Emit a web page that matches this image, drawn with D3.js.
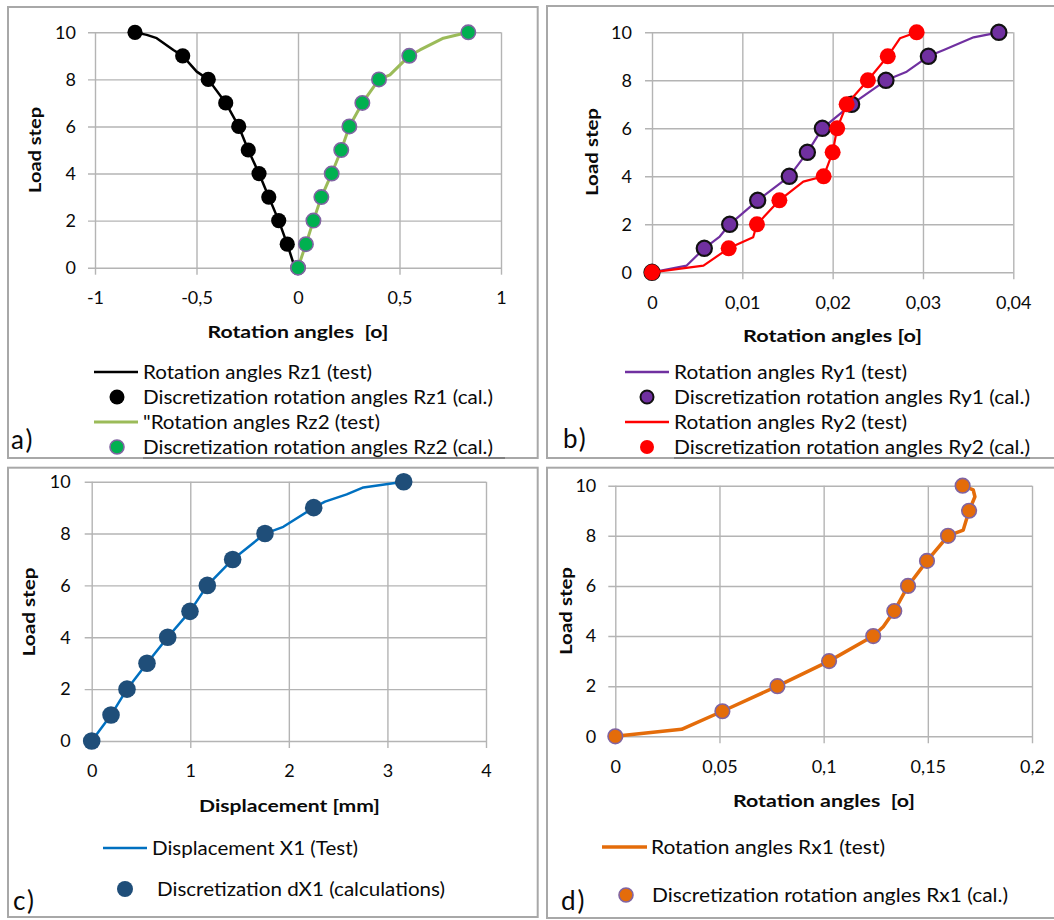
<!DOCTYPE html>
<html>
<head>
<meta charset="utf-8">
<script src="https://cdn.jsdelivr.net/npm/d3@7"></script>
<style>
  html, body { margin: 0; padding: 0; background: #ffffff; }
  svg { display: block; }
  text { font-family: Lato, "Open Sans", sans-serif; white-space: pre; }
</style>
</head>
<body>
<svg id="chart" width="1054" height="920"></svg>
<script>
// ---- Load steps (shared vertical variable) ----
const loadSteps = [0, 1, 2, 3, 4, 5, 6, 7, 8, 9, 10];
const yTicks = [0, 2, 4, 6, 8, 10];
const yTickLabels = ["0", "2", "4", "6", "8", "10"];

// ---- a) rotation angles Rz1 / Rz2 ----
const xTicksA = [-1, -0.5, 0, 0.5, 1];
const xTickLabelsA = ["-1", "-0,5", "0", "0,5", "1"];
const rz1Cal = [0, -0.053, -0.095, -0.144, -0.192, -0.245, -0.292, -0.356, -0.442, -0.568, -0.803];
const rz2Cal = [0, 0.039, 0.076, 0.115, 0.166, 0.213, 0.253, 0.317, 0.399, 0.548, 0.839];
const rz1TestAngle = [0, -0.023, -0.053, -0.095, -0.144, -0.192, -0.245, -0.292, -0.356, -0.442, -0.499, -0.568, -0.614, -0.696, -0.745, -0.803];
const rz1TestStep  = [0, 0.2, 1, 2, 3, 4, 5, 6, 7, 8, 8.33, 9, 9.25, 9.75, 9.89, 10];
const rz2TestAngle = [0, 0.039, 0.076, 0.115, 0.166, 0.213, 0.253, 0.317, 0.399, 0.453, 0.548, 0.601, 0.716, 0.839];
const rz2TestStep  = [0, 1, 2, 3, 4, 5, 6, 7, 8, 8.19, 9, 9.25, 9.75, 10];

// ---- b) rotation angles Ry1 / Ry2 ----
const xTicksB = [0, 0.01, 0.02, 0.03, 0.04];
const xTickLabelsB = ["0", "0,01", "0,02", "0,03", "0,04"];
const ry1Cal = [0, 0.00579, 0.0086, 0.0117, 0.0152, 0.0172, 0.01886, 0.0221, 0.0259, 0.0306, 0.0384];
const ry2Cal = [0, 0.00849, 0.01162, 0.0141, 0.0190, 0.0200, 0.0205, 0.02155, 0.0239, 0.0261, 0.0293];
const ry1TestAngle = [0, 0.00384, 0.00579, 0.0075, 0.0086, 0.0117, 0.0152, 0.0172, 0.01886, 0.0221, 0.0259, 0.0282, 0.0306, 0.0323, 0.0356, 0.0384];
const ry1TestStep  = [0, 0.28, 1, 1.49, 2, 3, 4, 5, 6, 7, 8, 8.36, 9, 9.26, 9.79, 10];
const ry2TestAngle = [0, 0.0057, 0.00849, 0.0112, 0.01162, 0.0141, 0.01675, 0.0190, 0.0200, 0.0205, 0.02155, 0.0239, 0.0261, 0.02745, 0.0293];
const ry2TestStep  = [0, 0.28, 1, 1.46, 2, 3, 3.78, 4, 5, 6, 7, 8, 9, 9.75, 10];

// ---- c) displacement X1 ----
const xTicksC = [0, 1, 2, 3, 4];
const xTickLabelsC = ["0", "1", "2", "3", "4"];
const dx1Cal = [0, 0.196, 0.358, 0.561, 0.771, 0.997, 1.173, 1.430, 1.758, 2.252, 3.165];
const dx1TestDisp = [0, 0.196, 0.358, 0.561, 0.771, 0.997, 1.173, 1.430, 1.758, 1.944, 2.252, 2.367, 2.587, 2.756, 3.165];
const dx1TestStep = [0, 1, 2, 3, 4, 5, 6, 7, 8, 8.26, 9, 9.23, 9.51, 9.78, 10];

// ---- d) rotation angles Rx1 ----
const xTicksD = [0, 0.05, 0.1, 0.15, 0.2];
const xTickLabelsD = ["0", "0,05", "0,1", "0,15", "0,2"];
const rx1Cal = [0, 0.0514, 0.0778, 0.1026, 0.1238, 0.1339, 0.1405, 0.1496, 0.1597, 0.1698, 0.1667];
const rx1TestAngle = [0, 0.0318, 0.0514, 0.0778, 0.1026, 0.1238, 0.1286, 0.1339, 0.1405, 0.1496, 0.1597, 0.167, 0.1698, 0.1726, 0.1718, 0.1667];
const rx1TestStep  = [0, 0.28, 1, 2, 3, 4, 4.37, 5, 6, 7, 8, 8.23, 9, 9.56, 9.83, 10];

const svg = d3.select("#chart");
const GRID = "#b4b4b4";
const FRAME = "#a8a8a8";
const INK = "#0a0a0a";

// panel frames
const frames = [
  {x: 8, y: 7, w: 529.7, h: 451, under: [143, 505]},
  {x: 547, y: 6, w: 520, h: 452, under: [674, 1030]},
  {x: 8, y: 467.7, w: 529.7, h: 449.3},
  {x: 547, y: 467.7, w: 520, h: 450.3}
];
frames.forEach(f => {
  svg.append("rect").attr("x", f.x).attr("y", f.y).attr("width", f.w).attr("height", f.h)
    .attr("fill", "none").attr("stroke", FRAME).attr("stroke-width", 2);
  if (f.under) {
    svg.append("line").attr("x1", f.under[0]).attr("x2", f.under[1])
      .attr("y1", f.y + f.h).attr("y2", f.y + f.h)
      .attr("stroke", "#707070").attr("stroke-width", 1.5);
  }
});

function drawPanel(p) {
  const g = svg.append("g");
  const x = d3.scaleLinear().domain(p.xDomain).range([p.left, p.right]);
  const y = d3.scaleLinear().domain([0, 10]).range([p.bottom, p.top]);
  const W = p.right - p.left, H = p.bottom - p.top;

  // horizontal grid + y labels
  const ya = g.append("g").attr("transform", `translate(${p.left},0)`)
    .call(d3.axisLeft(y).tickValues(yTicks).tickSize(-W).tickPadding(p.yPad)
      .tickFormat((d, i) => yTickLabels[i]));
  ya.select(".domain").remove();
  ya.selectAll(".tick line").attr("x1", -7).attr("stroke", GRID).attr("stroke-width", 1.4);
  ya.selectAll(".tick text").attr("font-size", 18).attr("fill", INK)
    .attr("font-family", "Lato, 'Open Sans', sans-serif");

  // vertical grid + x labels
  const xa = g.append("g").attr("transform", `translate(0,${p.bottom})`)
    .call(d3.axisBottom(x).tickValues(p.xTicks).tickSize(-H).tickPadding(p.xPad)
      .tickFormat((d, i) => p.xLabels[i]));
  xa.select(".domain").remove();
  xa.selectAll(".tick line").attr("y1", 7).attr("stroke", GRID).attr("stroke-width", 1.4);
  xa.selectAll(".tick text").attr("font-size", 18).attr("fill", INK)
    .attr("font-family", "Lato, 'Open Sans', sans-serif");

  // axis titles
  g.append("text").attr("x", p.xTitle.x).attr("y", p.xTitle.y)
    .attr("text-anchor", "middle").attr("font-size", 17.5).attr("font-weight", 700).attr("fill", INK)
    .attr("textLength", p.xTitle.w).attr("lengthAdjust", "spacingAndGlyphs")
    .text(p.xTitle.text);
  g.append("text").attr("transform", `translate(${p.yTitle.x},${p.yTitle.y}) rotate(-90)`)
    .attr("text-anchor", "middle").attr("font-size", 17.5).attr("font-weight", 700).attr("fill", INK)
    .attr("textLength", p.yTitle.w).attr("lengthAdjust", "spacingAndGlyphs")
    .text("Load step");

  // series
  const line = d3.line().x(d => x(d[0])).y(d => y(d[1]));
  p.series.forEach(s => {
    if (s.type === "line") {
      g.append("path").datum(d3.zip(s.xs, s.ys)).attr("d", line)
        .attr("fill", "none").attr("stroke", s.color).attr("stroke-width", s.width)
        .attr("stroke-linejoin", "round").attr("stroke-linecap", "round");
    } else {
      g.selectAll(null).data(d3.zip(s.xs, s.ys)).join("circle")
        .attr("cx", d => x(d[0])).attr("cy", d => y(d[1])).attr("r", s.r)
        .attr("fill", s.fill).attr("stroke", s.stroke || "none").attr("stroke-width", s.sw || 0);
    }
  });

  // legend
  p.legend.forEach(L => {
    if (L.type === "line") {
      g.append("line").attr("x1", L.x1).attr("x2", L.x2).attr("y1", L.cy).attr("y2", L.cy)
        .attr("stroke", L.color).attr("stroke-width", L.width);
    } else {
      g.append("circle").attr("cx", L.mx).attr("cy", L.cy).attr("r", L.r)
        .attr("fill", L.fill).attr("stroke", L.stroke || "none").attr("stroke-width", L.sw || 0);
    }
    g.append("text").attr("x", L.tx).attr("y", L.cy + 6.5).attr("font-size", 18.5).attr("fill", INK)
      .attr("textLength", L.tw).attr("lengthAdjust", "spacingAndGlyphs").text(L.text);
  });

  // panel tag
  g.append("text").attr("x", p.tag.x).attr("y", p.tag.y).attr("font-size", 26).attr("fill", INK)
    .attr("letter-spacing", 2).text(p.tag.text);
}

// a)
drawPanel({
  xDomain: [-1, 1], left: 95, right: 501, top: 32.3, bottom: 267.7,
  xTicks: xTicksA, xLabels: xTickLabelsA, yPad: 19, xPad: 24,
  xTitle: {x: 298, y: 338, w: 181, text: "Rotation angles  [o]"},
  yTitle: {x: 41, y: 150, w: 86},
  series: [
    {type: "line", xs: rz1TestAngle, ys: rz1TestStep, color: "#000000", width: 2.5},
    {type: "dots", xs: rz1Cal, ys: loadSteps, r: 7.6, fill: "#000000"},
    {type: "line", xs: rz2TestAngle, ys: rz2TestStep, color: "#9bbb59", width: 3},
    {type: "dots", xs: rz2Cal, ys: loadSteps, r: 7.2, fill: "#00b050", stroke: "#8064a2", sw: 1.6}
  ],
  legend: [
    {type: "line", x1: 94, x2: 138, cy: 372, color: "#000000", width: 2.5, tx: 143, tw: 229, text: "Rotation angles Rz1 (test)"},
    {type: "dot", mx: 117, cy: 397, r: 7.5, fill: "#000000", tx: 143, tw: 350, text: "Discretization rotation angles Rz1 (cal.)"},
    {type: "line", x1: 94, x2: 138, cy: 422, color: "#9bbb59", width: 3, tx: 143, tw: 237, text: "\"Rotation angles Rz2 (test)"},
    {type: "dot", mx: 117, cy: 447, r: 7, fill: "#00b050", stroke: "#8064a2", sw: 1.6, tx: 143, tw: 350, text: "Discretization rotation angles Rz2 (cal.)"}
  ],
  tag: {x: 11, y: 449, text: "a)"}
});

// b)
drawPanel({
  xDomain: [0, 0.04], left: 652, right: 1013.3, top: 32.3, bottom: 272.3,
  xTicks: xTicksB, xLabels: xTickLabelsB, yPad: 20, xPad: 24,
  xTitle: {x: 832.5, y: 342, w: 179, text: "Rotation angles [o]"},
  yTitle: {x: 598, y: 152, w: 88},
  series: [
    {type: "line", xs: ry1TestAngle, ys: ry1TestStep, color: "#7030a0", width: 2.2},
    {type: "dots", xs: ry1Cal, ys: loadSteps, r: 7.6, fill: "#7030a0", stroke: "#111111", sw: 2.2},
    {type: "line", xs: ry2TestAngle, ys: ry2TestStep, color: "#ff0000", width: 2.2},
    {type: "dots", xs: ry2Cal, ys: loadSteps, r: 8, fill: "#ff0000"}
  ],
  legend: [
    {type: "line", x1: 625, x2: 669, cy: 372, color: "#7030a0", width: 2.5, tx: 674, tw: 233, text: "Rotation angles Ry1 (test)"},
    {type: "dot", mx: 647, cy: 397, r: 6.5, fill: "#7030a0", stroke: "#111111", sw: 2, tx: 674, tw: 356, text: "Discretization rotation angles Ry1 (cal.)"},
    {type: "line", x1: 625, x2: 669, cy: 422, color: "#ff0000", width: 2.5, tx: 674, tw: 233, text: "Rotation angles Ry2 (test)"},
    {type: "dot", mx: 647, cy: 447, r: 7, fill: "#ff0000", tx: 674, tw: 356, text: "Discretization rotation angles Ry2 (cal.)"}
  ],
  tag: {x: 563, y: 448, text: "b)"}
});

// c)
drawPanel({
  xDomain: [0, 4], left: 91.7, right: 486, top: 481.7, bottom: 741,
  xTicks: xTicksC, xLabels: xTickLabelsC, yPad: 21, xPad: 23,
  xTitle: {x: 289.5, y: 812, w: 181, text: "Displacement [mm]"},
  yTitle: {x: 35, y: 612, w: 89},
  series: [
    {type: "line", xs: dx1TestDisp, ys: dx1TestStep, color: "#0070c0", width: 2.5},
    {type: "dots", xs: dx1Cal, ys: loadSteps, r: 8.8, fill: "#1f4e79"}
  ],
  legend: [
    {type: "line", x1: 103, x2: 147, cy: 848, color: "#0070c0", width: 2.5, tx: 152, tw: 206, text: "Displacement X1 (Test)"},
    {type: "dot", mx: 125, cy: 889, r: 8, fill: "#1f4e79", tx: 157, tw: 288, text: "Discretization dX1 (calculations)"}
  ],
  tag: {x: 13, y: 910, text: "c)"}
});

// d)
drawPanel({
  xDomain: [0, 0.2], left: 615.3, right: 1032, top: 485.7, bottom: 736.3,
  xTicks: xTicksD, xLabels: xTickLabelsD, yPad: 19, xPad: 24,
  xTitle: {x: 824, y: 807, w: 182, text: "Rotation angles  [o]"},
  yTitle: {x: 572, y: 611, w: 88},
  series: [
    {type: "line", xs: rx1TestAngle, ys: rx1TestStep, color: "#e46c0a", width: 3.5},
    {type: "dots", xs: rx1Cal, ys: loadSteps, r: 7.3, fill: "#e46c0a", stroke: "#8064a2", sw: 1.6}
  ],
  legend: [
    {type: "line", x1: 602, x2: 647, cy: 847, color: "#e46c0a", width: 3.5, tx: 651, tw: 234, text: "Rotation angles Rx1 (test)"},
    {type: "dot", mx: 626, cy: 895, r: 7, fill: "#e46c0a", stroke: "#8064a2", sw: 1.6, tx: 652, tw: 356, text: "Discretization rotation angles Rx1 (cal.)"}
  ],
  tag: {x: 561, y: 910, text: "d)"}
});
</script>
</body>
</html>
